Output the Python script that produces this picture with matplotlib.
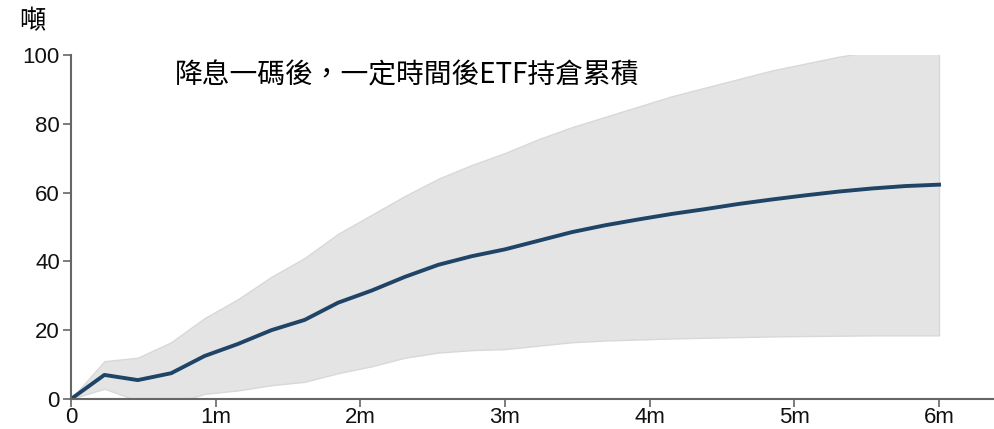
import numpy as np
import matplotlib
matplotlib.use("Agg")
import matplotlib.pyplot as plt

plt.rcParams['font.family'] = ['Liberation Sans', 'Noto Sans CJK TC']

# weekly points, 26 weeks = 6 months
weeks = list(range(27))
mid = [0, 7, 5.5, 7.5, 12.5, 16, 20, 23, 28, 31.5, 35.5, 39, 41.5, 43.5, 46,
       48.5, 50.5, 52.2, 53.8, 55.2, 56.7, 58, 59.2, 60.3, 61.2, 61.9, 62.3]
upper = [0, 11, 12, 16.5, 23.5, 29, 35.5, 41, 48, 53.5, 59, 64, 68, 71.5, 75.5,
         79, 82, 85, 88, 90.5, 93, 95.5, 97.5, 99.5, 101, 102, 103]
lower = [0, 3, -0.5, -1.5, 1.5, 2.5, 4, 5, 7.5, 9.5, 12, 13.5, 14.2, 14.5, 15.5,
         16.5, 17, 17.3, 17.6, 17.8, 18, 18.2, 18.3, 18.4, 18.5, 18.5, 18.5]
xtick_labels = ['0', '1m', '2m', '3m', '4m', '5m', '6m']
yticks = [0, 20, 40, 60, 80, 100]

x = np.array(weeks) / 26 * 6

fig = plt.figure(figsize=(9.94, 4.29), dpi=100)
ax = fig.add_axes([71 / 994, 0.0699, 1 - 71 / 994, 0.802])

ax.fill_between(x, lower, upper, color='#e4e4e4', edgecolor='#d8d8d8', linewidth=1)
ax.plot(x, mid, color='#1f4466', linewidth=2.8)

ax.set_xlim(0, 6.38)
ax.set_ylim(0, 100)
ax.set_xticks(range(7))
ax.set_xticklabels(xtick_labels)
ax.set_yticks(yticks)

for s in ['top', 'right']:
    ax.spines[s].set_visible(False)
for s in ['left', 'bottom']:
    ax.spines[s].set_color('#666666')
    ax.spines[s].set_linewidth(1.5)
ax.tick_params(direction='out', length=6, width=1.2, color='#666666',
               labelsize=16, labelcolor='#111111', pad=2)
ax.tick_params(axis='x', pad=0)

ax.text(175 / 994, 1 - 75 / 429, '降息一碼後，一定時間後ETF持倉累積', transform=fig.transFigure,
        fontsize=20, ha='left', va='center', family=['Noto Sans CJK TC'])
fig.text(19 / 994, 1 - 22 / 429, '噸', fontsize=19, ha='left', va='center',
         family=['Noto Sans CJK TC'])

fig.savefig('out.png', dpi=100)
